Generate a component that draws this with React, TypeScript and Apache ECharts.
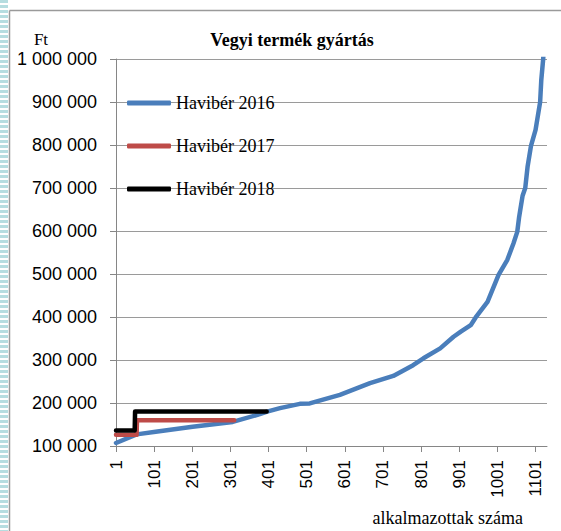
import React, { useEffect, useRef } from "react";
import * as echarts from "echarts";

// Employee number (x) and monthly salary in Ft (y)
const employees2016 = [1, 55, 105, 202, 307, 378, 397, 431, 483, 509, 588, 667, 728, 780, 807, 851, 886, 905, 931, 944, 975, 1004, 1027, 1043, 1053, 1058, 1062, 1067, 1074, 1080, 1089, 1101, 1113, 1116, 1121, 1127];
const salary2016 = [107000, 127000, 133000, 145000, 156000, 174000, 180000, 188000, 198000, 199000, 219000, 246000, 263000, 288000, 304000, 327000, 354000, 366000, 381000, 399000, 435000, 498000, 533000, 571000, 598000, 633000, 655000, 682000, 700000, 749000, 798000, 835000, 900000, 951000, 1000000, 1100000];

const employees2017 = [1, 55, 56, 311];
const salary2017 = [126000, 126000, 160000, 160000];

const employees2018 = [1, 50, 51, 396];
const salary2018 = [136000, 136000, 180000, 180000];

const seriesNames = ["Havibér 2016", "Havibér 2017", "Havibér 2018"];
const xTickLabels = [1, 101, 201, 301, 401, 501, 601, 701, 801, 901, 1001, 1101];
const xMax = 1131;
const yMin = 100000;
const yMax = 1000000;
const yStep = 100000;

const chartTitle = "Vegyi termék gyártás";
const yUnit = "Ft";
const xName = "alkalmazottak száma";

const pairs = (xs: number[], ys: number[]) => xs.map((x, i) => [x, ys[i]]);
const fmt = (v: number) => String(v).replace(/\B(?=(\d{3})+(?!\d))/g, " ");

export default function App() {
  const ref = useRef<HTMLDivElement>(null);
  useEffect(() => {
    if (!ref.current) return;
    const chart = echarts.init(ref.current, undefined, { renderer: "svg" });
    const serif = "'Liberation Serif', 'Times New Roman', serif";
    const sans = "'Liberation Sans', Arial, sans-serif";
    const colors = ["#4a7ebb", "#be4b48", "#000000"];
    const mk = (name: string, data: number[][], color: string, z: number) => ({
      name,
      type: "line",
      data,
      symbol: "none",
      showSymbol: false,
      z,
      clip: true,
      lineStyle: { color, width: 4.5, cap: "round", join: "round" },
      itemStyle: { color },
    });
    chart.setOption({
      animation: false,
      backgroundColor: "#ffffff",
      title: {
        text: chartTitle,
        left: 287,
        top: 26,
        textAlign: "center",
        textStyle: { fontFamily: serif, fontWeight: "bold", fontSize: 18, color: "#000" },
      },
      legend: {
        data: seriesNames.map((n, i) => ({ name: n, icon: "roundRect", itemStyle: { color: colors[i] } })),
        orient: "vertical",
        left: 122,
        top: 89,
        itemWidth: 44,
        itemHeight: 5,
        itemGap: 25,
        textStyle: { fontFamily: serif, fontSize: 18, lineHeight: 16, color: "#000" },
      },
      grid: { left: 116, right: 14, top: 59, bottom: 85, containLabel: false },
      xAxis: {
        type: "value",
        min: 1,
        max: xMax,
        axisLine: { show: true, lineStyle: { color: "#868686", width: 1 } },
        axisTick: { show: true, length: 6, customValues: xTickLabels, lineStyle: { color: "#868686" } },
        axisLabel: {
          customValues: xTickLabels,
          rotate: 90,
          margin: 14,
          fontFamily: sans,
          fontSize: 17,
          color: "#000",
          formatter: (v: number) => String(v),
        },
        splitLine: { show: false },
      },
      yAxis: {
        type: "value",
        min: yMin,
        max: yMax,
        interval: yStep,
        axisLine: { show: true, lineStyle: { color: "#868686", width: 1 } },
        axisTick: { show: true, length: 6, lineStyle: { color: "#868686" } },
        axisLabel: {
          margin: 19,
          fontFamily: sans,
          fontSize: 18,
          color: "#000",
          formatter: (v: number) => fmt(v),
        },
        splitLine: { show: true, lineStyle: { color: "#9a9a9a", width: 1 } },
      },
      series: [
        mk(seriesNames[0], pairs(employees2016, salary2016), colors[0], 2),
        mk(seriesNames[1], pairs(employees2017, salary2017), colors[1], 3),
        mk(seriesNames[2], pairs(employees2018, salary2018), colors[2], 4),
      ],
      graphic: [
        { type: "line", shape: { x1: 9.5, y1: 10.5, x2: 9.5, y2: 531 }, style: { stroke: "#9a9a9a", lineWidth: 1.5 } },
        { type: "line", shape: { x1: 9.5, y1: 10.5, x2: 561, y2: 10.5 }, style: { stroke: "#9a9a9a", lineWidth: 1.5 } },
        {
          type: "text",
          x: 41,
          y: 39,
          style: { text: yUnit, font: `17px ${serif}`, fill: "#000", align: "center", verticalAlign: "middle" },
        },
        {
          type: "text",
          x: 523,
          y: 518,
          style: { text: xName, font: `18px ${serif}`, fill: "#000", align: "right", verticalAlign: "middle" },
        },
      ],
    });
    return () => chart.dispose();
  }, []);
  return (
    <div style={{ position: "absolute", left: 0, top: 0, width: 561, height: 531, background: "#fff" }}>
      <div ref={ref} style={{ position: "absolute", left: 0, top: 0, width: 561, height: 531 }} />
      <div
        style={{
          position: "absolute",
          left: 0,
          top: 0,
          width: 8,
          height: 531,
          background: "repeating-linear-gradient(to bottom, #b6dde0 0px, #b6dde0 3px, #ffffff 3px, #ffffff 5px)",
        }}
      />
    </div>
  );
}
